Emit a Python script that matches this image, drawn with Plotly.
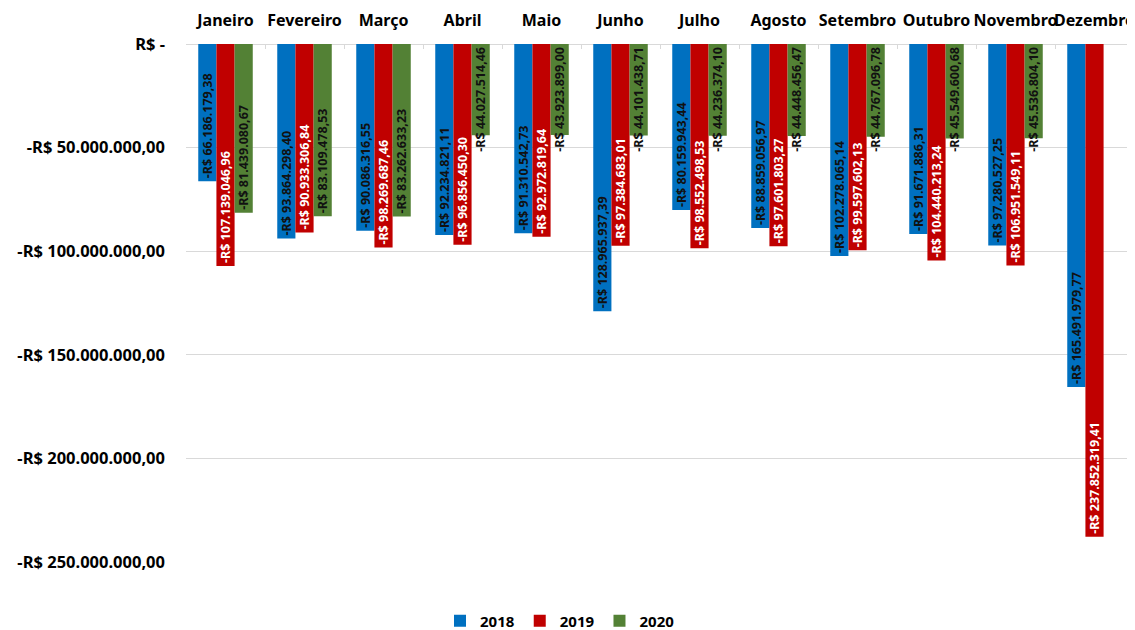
import plotly.graph_objects as go

months = ["Janeiro", "Fevereiro", "Março", "Abril", "Maio", "Junho", "Julho",
          "Agosto", "Setembro", "Outubro", "Novembro", "Dezembro"]
v2018 = [-66186179.38, -93864298.40, -90086316.55, -92234821.11, -91310542.73,
         -128965937.39, -80159943.44, -88859056.97, -102278065.14, -91671886.31,
         -97280527.25, -165491979.77]
v2019 = [-107139046.96, -90933306.84, -98269687.46, -96856450.30, -92972819.64,
         -97384683.01, -98552498.53, -97601803.27, -99597602.13, -104440213.24,
         -106951549.11, -237852319.41]
v2020 = [-81439080.67, -83109478.53, -83262633.23, -44027514.46, -43923899.00,
         -44101438.71, -44236374.10, -44448456.47, -44767096.78, -45549600.68,
         -45536804.10, None]
ytickvals = [0, -50e6, -100e6, -150e6, -200e6, -250e6]
yticktext = ["R$ -", "-R$ 50.000.000,00", "-R$ 100.000.000,00", "-R$ 150.000.000,00",
             "-R$ 200.000.000,00", "-R$ 250.000.000,00"]
title_text = "Gráfico 12 - Déficit 2018/2019/2020"

def brl(v):
    if v is None:
        return ""
    s = f"{abs(v):,.2f}".replace(",", "X").replace(".", ",").replace("X", ".")
    return ("-R$ " if v < 0 else "R$ ") + s

FONT = "Noto Sans"
lab_font = dict(family=FONT, size=12.5, weight="bold")

fig = go.Figure()

def add(vals, name, color, txtcolor, group, anchor="end", showlegend=True):
    fig.add_trace(go.Bar(
        x=months, y=vals, name=name, offsetgroup=group,
        marker=dict(color=color, line=dict(width=0)),
        text=[brl(v) for v in vals], textposition="inside",
        insidetextanchor=anchor, textangle=-90, constraintext="none",
        textfont=dict(color=txtcolor, **lab_font), showlegend=showlegend,
        cliponaxis=False,
    ))

add(v2018, "2018", "#0070C0", "#111111", "a")
add(v2019, "2019", "#C00000", "#ffffff", "b")
# 2020: labels that fit sit at the bar end; the long ones start at the base
fit = [v is not None and abs(v) > 60e6 for v in v2020]
g_end = [v if f else None for v, f in zip(v2020, fit)]
g_start = [None if f else v for v, f in zip(v2020, fit)]
add(g_end, "2020", "#538135", "#111111", "c")
add(g_start, "2020", "#538135", "#111111", "c", anchor="start", showlegend=False)

W, H = 1127, 622
fig.update_layout(
    width=W, height=H,
    margin=dict(l=178, r=1, t=36, b=68, autoexpand=False),
    plot_bgcolor="white", paper_bgcolor="white",
    barmode="group", bargap=0.31, bargroupgap=0,
    font=dict(family=FONT, size=15, color="#000000", weight="bold"),
    legend=dict(orientation="h", xref="container", yref="container",
                x=(560 - 8) / W, xanchor="center", y=9 / H, yanchor="middle",
                font=dict(family=FONT, size=15, weight="bold"),
                itemwidth=30, traceorder="normal"),
    showlegend=True,
    annotations=[dict(text=title_text, xref="paper", yref="paper",
                      x=(570 - 186) / (1134 - 186), y=1 + 43 / 518,
                      xanchor="center", yanchor="middle", showarrow=False,
                      font=dict(family=FONT, size=19, weight="bold", color="#000000"))],
)
fig.update_xaxes(side="top", showgrid=False, showline=False, automargin=False,
                 tickangle=0,
                 ticks="inside", tickson="boundaries", ticklen=5,
                 tickcolor="#d9d9d9", ticklabelstandoff=14,
                 tickfont=dict(family=FONT, size=16, weight="bold"))
fig.update_yaxes(range=[-250e6, 0], tickvals=ytickvals, ticktext=yticktext,
                 showgrid=True, gridcolor="#d9d9d9", gridwidth=1, automargin=False,
                 zeroline=True, zerolinecolor="#d9d9d9", zerolinewidth=1,
                 ticklabelstandoff=20,
                 tickfont=dict(family=FONT, size=16.5, weight="bold"))

fig.write_html("out.html")
